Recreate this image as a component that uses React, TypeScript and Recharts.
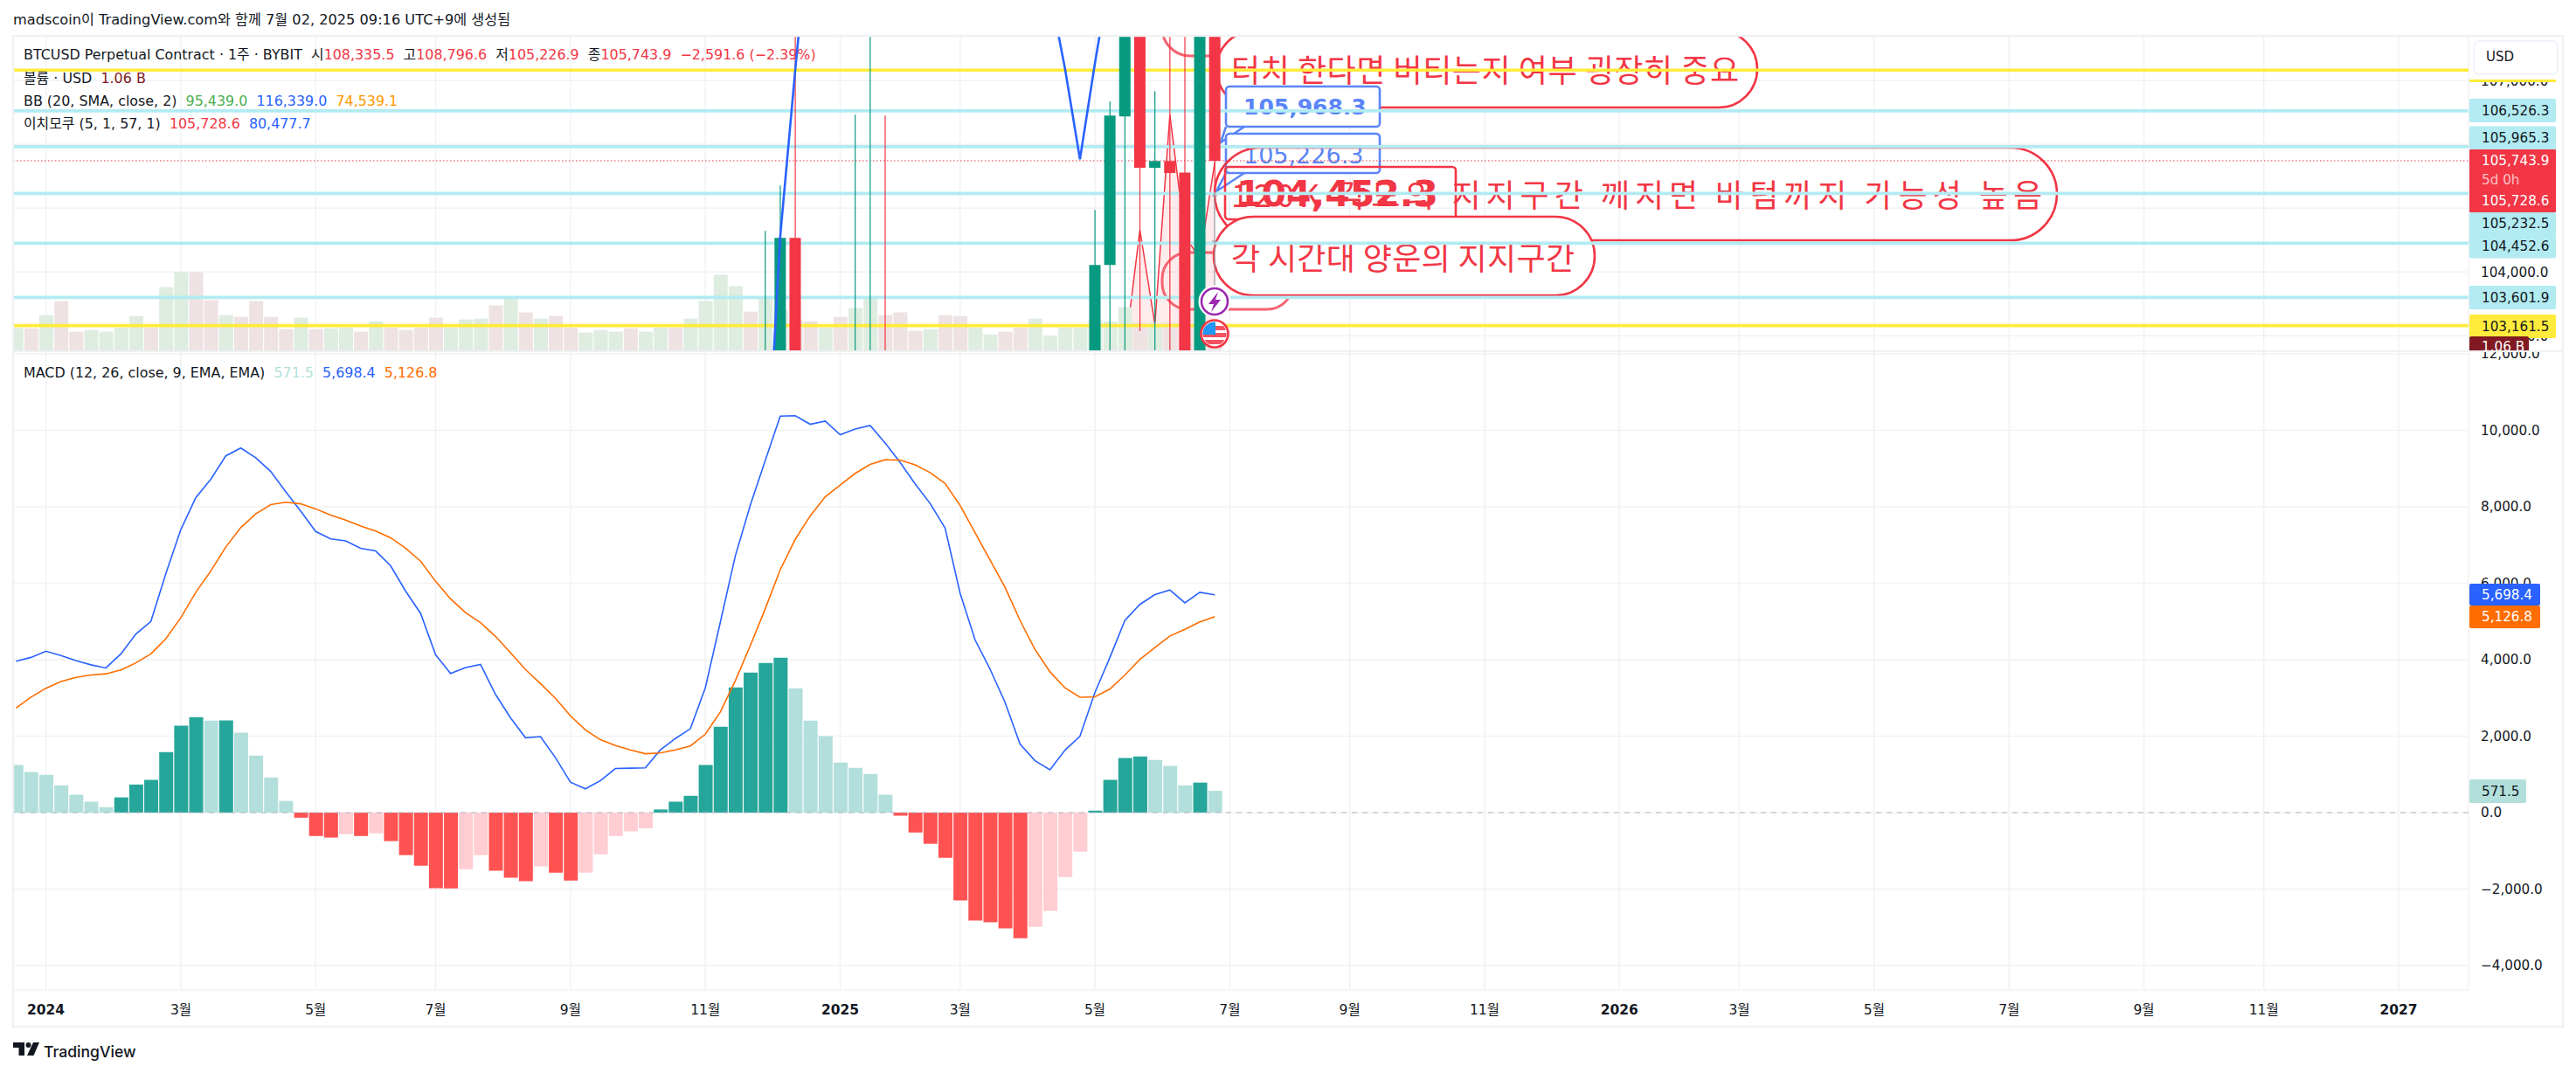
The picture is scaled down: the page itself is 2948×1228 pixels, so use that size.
import { Area, Bar, CartesianGrid, Cell, ComposedChart, Line, ReferenceLine, XAxis, YAxis } from 'recharts';

const W = 2948;
const H = 1228;
const FONT = '"DejaVu Sans", "Noto Sans CJK KR", sans-serif';
const KR = '"Noto Sans CJK KR", "Noto Sans", sans-serif';

const RED = '#F23645';
const GREEN = '#089981';
const BLUE = '#2962FF';
const GRID = '#F1F2F4';

// weekly bars, week 0 = first week of 2024
const volume = [
  4.03, 3.98, 6.25, 8.67, 3.38, 3.68, 3.38, 4.08, 6.1, 4.13, 11.09, 13.66, 13.66, 8.82, 6.25, 5.95, 8.67,
  5.95, 3.83, 5.8, 3.83, 3.98, 4.13, 3.38, 5.19, 4.13, 3.68, 4.13, 5.8, 4.13, 5.49, 5.64, 7.91, 9.12, 6.7,
  5.64, 6.1, 4.13, 3.23, 3.68, 3.38, 3.98, 3.38, 4.13, 4.13, 5.64, 8.67, 13.2, 11.24, 6.85, 9.12, 7.16,
  5.39, 5.19, 4.13, 5.95, 7.46, 9.12, 6.25, 6.7, 3.53, 3.83, 6.25, 6.1, 4.13, 2.92, 3.38, 4.13, 5.64, 2.62,
  4.13, 4.13, 5.39, 5.14, 7.61, 5.04, 4.89, 5.04, 3.88, 4.89, 1.06,
];
const volumeUp = [
  1, 0, 1, 0, 0, 1, 1, 1, 1, 0, 1, 1, 0, 0, 1, 0, 0, 0, 0, 1, 0, 1, 1, 0, 1, 0, 0, 0, 0, 1, 1, 1, 0, 1, 0, 1,
  0, 0, 1, 1, 1, 0, 1, 1, 0, 1, 1, 1, 1, 0, 1, 1, 0, 0, 1, 0, 1, 1, 0, 0, 0, 1, 0, 0, 1, 1, 0, 0, 1, 1, 1, 1,
  1, 1, 1, 0, 1, 0, 0, 1, 0,
];
const histogram = [
  1245, 1061, 989, 714, 469, 286, 143, 398, 734, 857, 1581, 2275, 2499, 2407, 2410, 2091, 1489, 918, 306,
  -133, -612, -653, -561, -612, -541, -745, -1112, -1387, -1979, -1985, -1479, -1112, -1520, -1703, -1795,
  -1408, -1571, -1775, -1571, -1091, -612, -490, -408, 82, 286, 439, 1245, 2244, 3274, 3662, 3917, 4049,
  3254, 2407, 1999, 1306, 1173, 1010, 469, -82, -520, -816, -1183, -2295, -2825, -2866, -3029, -3284, -2989,
  -2570, -1683, -1020, 51, 857, 1428, 1469, 1377, 1224, 714, 785, 571.5,
];
const macdLine = [
  3958, 4060, 4223, 4111, 3978, 3866, 3784, 4151, 4672, 4998, 6253, 7405, 8242, 8721, 9333, 9537, 9282, 8925,
  8395, 7885, 7354, 7160, 7109, 6916, 6844, 6457, 5794, 5212, 4131, 3641, 3794, 3876, 3091, 2479, 1958, 1989,
  1438, 796, 622, 836, 1153, 1163, 1173, 1642, 1938, 2193, 3264, 4978, 6712, 8038, 9211, 10373, 10384, 10159,
  10241, 9884, 10037, 10129, 9670, 9160, 8599, 8089, 7446, 5743, 4519, 3754, 2887, 1795, 1357, 1122, 1632,
  1999, 3142, 4060, 5029, 5447, 5702, 5824, 5488, 5763, 5698.4,
];
const signalLine = [
  2734, 3019, 3254, 3427, 3539, 3601, 3631, 3733, 3917, 4151, 4549, 5100, 5763, 6324, 6946, 7456, 7813, 8058,
  8119, 8078, 7946, 7783, 7650, 7497, 7364, 7191, 6916, 6579, 6049, 5590, 5233, 4967, 4610, 4182, 3743, 3376,
  2989, 2530, 2162, 1907, 1754, 1642, 1540, 1561, 1642, 1744, 2050, 2632, 3448, 4366, 5335, 6355, 7150, 7762,
  8262, 8568, 8874, 9109, 9231, 9221, 9098, 8894, 8609, 8038, 7324, 6610, 5896, 5029, 4264, 3682, 3264, 3019,
  3029, 3233, 3601, 4009, 4315, 4621, 4794, 4988, 5126.8,
];

// only these candles reach into the zoomed price pane
const candleWeeks = [48, 49, 50, 54, 55, 56, 70, 71, 72, 73, 74, 75, 76, 77, 78];
const candleOpen = [96500, 101000, 104534, 94500, 101000, 102000, 96000, 104110, 106438, 110000, 105634, 105740, 105560, 99000, 108335.5];
const candleClose = [101000, 104534, 95500, 101000, 102000, 100000, 104110, 106452, 110000, 105634, 105740, 105552, 99000, 108335, 105743.9];
const candleHigh = [104644, 105356, 108300, 106466, 109500, 106452, 104973, 106671, 112000, 111500, 106836, 108500, 108500, 110000, 108796.6];
const candleLow = [95000, 100000, 92000, 89000, 100000, 97000, 93000, 102000, 102000, 103073, 102000, 102000, 98000, 98000, 105226.9];

const bandWeeks = [47, 48, 49, 50, 51, 66, 67, 68, 69, 70, 71, 72];
const bandValues = [97000, 100288, 104562, 107164, 109630, 110000, 108400, 107192, 105767, 107274, 108670, 110000];
const cloudWeeks = [72, 73, 74, 75, 76, 77, 78];
const cloudValues = [102753, 104662, 103178, 106466, 104575, 104205, 105728.6];

const aquaLevels = [106526.3, 105965.3, 105232.5, 104452.6, 103601.9];
const yellowLevels = [107165, 103161.5];
const lastPrice = 105743.9;

const priceTicks = [103000, 104000, 105000, 106000, 107000];
const macdTicks = [-4000, -2000, 0, 2000, 4000, 6000, 8000, 10000, 12000];
const timeTicks = [0, 9, 18, 26, 35, 44, 53, 61, 70, 79, 87, 96, 105, 113, 122, 131, 140, 148, 157];
const timeLabels = ['2024', '3월', '5월', '7월', '9월', '11월', '2025', '3월', '5월', '7월', '9월', '11월', '2026', '3월', '5월', '7월', '9월', '11월', '2027'];

const rows = volume.map((v, i) => {
  const week = i - 2;
  const c = candleWeeks.indexOf(week);
  const b = bandWeeks.indexOf(week);
  const k = cloudWeeks.indexOf(week);
  return {
    week,
    volume: v,
    hist: histogram[i],
    macd: macdLine[i],
    signal: signalLine[i],
    band: b >= 0 ? bandValues[b] : null,
    cloud: k >= 0 ? cloudValues[k] : null,
    body: c >= 0 ? [Math.min(candleOpen[c], candleClose[c]), Math.max(candleOpen[c], candleClose[c])] : null,
    wick: c >= 0 ? [candleLow[c], candleHigh[c]] : null,
    up: c >= 0 ? candleClose[c] >= candleOpen[c] : false,
  };
});

const weekAxis = { type: 'number' as const, dataKey: 'week', domain: [-2.192, 161.66], allowDataOverflow: true, ticks: timeTicks, interval: 0 as const };
const priceDomain = [102758, 107702.7];
const fmt = (v: number) => v.toLocaleString('en-US', { minimumFractionDigits: 1, maximumFractionDigits: 1 }).replace('-', '−');
const layer = { position: 'absolute', left: 0, top: 0 } as const;
const topMargin = { top: 41, right: 123, bottom: 826, left: 15 };

function histColor(i: number) {
  const v = histogram[i];
  const rising = i > 0 && v > histogram[i - 1];
  if (v >= 0) return rising ? '#26A69A' : '#B2DFDB';
  return rising ? '#FFCDD2' : '#FF5252';
}

function TimeTick({ x, payload }: any) {
  const label = timeLabels[timeTicks.indexOf(payload.value)];
  const isYear = label.length === 4;
  return (
    <text x={x} y={1161} textAnchor="middle" fontFamily={FONT} fontSize={15.5} fontWeight={isYear ? 700 : 400} fill="#131722">
      {label}
    </text>
  );
}

function Tag({ y, h = 27, w = 99, bg, color = '#131722', text }: any) {
  return (
    <g>
      <rect x={2826} y={y - h / 2} width={w} height={h} rx={2} fill={bg} />
      {text && (
        <text x={2840} y={y} dominantBaseline="central" fontFamily={FONT} fontSize={15.2} fill={color}>
          {text}
        </text>
      )}
    </g>
  );
}

function Legend({ y, x = 27, size = 15.9, children }: any) {
  return (
    <div style={{ position: 'absolute', left: x, top: y - 11, lineHeight: '22px', fontFamily: FONT, fontSize: size, color: '#131722', whiteSpace: 'pre' }}>
      {children}
    </div>
  );
}

const Red = ({ children }: any) => <span style={{ color: RED }}>{children}</span>;

function Drawings() {
  const pill = { fill: '#fff', stroke: RED, strokeWidth: 2.6 };
  const note = { fontFamily: KR, fontSize: 36, fill: RED, dominantBaseline: 'central' as const, lengthAdjust: 'spacing' as const };
  const callout = { fontFamily: FONT, fontSize: 25, fontWeight: 700, fill: '#5A85F7', dominantBaseline: 'central' as const };
  return (
    <svg width={W} height={H} style={layer}>
      <defs>
        <clipPath id="pane">
          <rect x={15} y={41} width={2810} height={361} />
        </clipPath>
      </defs>
      <g clipPath="url(#pane)">
        <rect x={1330} y={-20} width={150} height={84} rx={32} fill="none" stroke="#F5636F" strokeWidth={3} />
        <rect x={1330} y={289} width={150} height={65} rx={30} fill="none" stroke="#F5636F" strokeWidth={3} />
        <rect x={1392} y={35} width={619} height={88} rx={44} {...pill} />
        <text x={1409} y={78} textLength={581} {...note}>터치 한다면 버티는지 여부 굉장히 중요</text>
        <path d="M1403 145 L1397 163 L1424 145 M1403 198 L1392 219 L1424 198" fill="none" stroke="#5A85F7" strokeWidth={2.6} />
        <rect x={1403} y={99} width={176} height={46} rx={4} fill="#fff" stroke="#5A85F7" strokeWidth={2.6} />
        <text x={1423} y={122} {...callout}>105,968.3</text>
        <rect x={1403} y={153} width={176} height={45} rx={4} fill="#fff" stroke="#5A85F7" strokeWidth={2.6} />
        <text x={1423} y={177} {...callout} fontWeight={400} fontSize={27}>105,226.3</text>
        <rect x={1390} y={169} width={964} height={106} rx={53} fill="none" stroke={RED} strokeWidth={2.6} />
        <text x={1409} y={221} textLength={928} {...note}>120K 각도의 지지구간 깨지면 바텀까지 가능성 높음</text>
        <rect x={1402} y={191} width={264} height={60} rx={4} fill="none" stroke={RED} strokeWidth={2.6} />
        <text x={1415} y={222} fontFamily={FONT} fontWeight={700} fontSize={41} fill={RED} dominantBaseline="central">104,452.3</text>
        <rect x={1389} y={248} width={436} height={90} rx={45} {...pill} />
        <text x={1409} y={293} textLength={393} {...note}>각 시간대 양운의 지지구간</text>
      </g>
    </svg>
  );
}

function Overlay() {
  return (
    <svg width={W} height={H} style={layer}>
      {/* price tags */}
      <Tag y={126.5} bg="#B2EBF2" text="106,526.3" />
      <Tag y={158} bg="#B2EBF2" text="105,965.3" />
      <Tag y={256} bg="#B2EBF2" text="105,232.5" />
      <Tag y={282} bg="#B2EBF2" text="104,452.6" />
      <rect x={2826} y={171} width={99} height={72} rx={1} fill={RED} />
      <text x={2840} y={184} dominantBaseline="central" fontFamily={FONT} fontSize={15.2} fill="#fff">105,743.9</text>
      <text x={2840} y={206} dominantBaseline="central" fontFamily={FONT} fontSize={15.2} fill="#fff" fillOpacity={0.7}>5d 0h</text>
      <text x={2840} y={230} dominantBaseline="central" fontFamily={FONT} fontSize={15.2} fill="#fff">105,728.6</text>
      <Tag y={340.5} bg="#B2EBF2" text="103,601.9" />
      <rect x={2826} y={91} width={99} height={3} fill="#FFEB3B" />
      <rect x={2826} y={47} width={104} height={44} fill="#fff" />
      <rect x={2831} y={47} width={96} height={38} rx={6} fill="#fff" stroke="#F0F3FA" strokeWidth={2} />
      <text x={2845} y={65} dominantBaseline="central" fontFamily={FONT} fontSize={15} fill="#131722">USD</text>
      <Tag y={373.5} bg="#FFEB3B" text="103,161.5" />
      <clipPath id="volTag">
        <rect x={2826} y={385} width={68} height={17} />
      </clipPath>
      <g clipPath="url(#volTag)">
        <rect x={2826} y={385} width={68} height={20} rx={2} fill="#801922" />
        <text x={2840} y={397} dominantBaseline="central" fontFamily={FONT} fontSize={15.2} fill="#fff">1.06 B</text>
      </g>
      <Tag y={680.5} h={25} w={81} bg={BLUE} color="#fff" text="5,698.4" />
      <Tag y={706} h={26} w={81} bg="#FF6D00" color="#fff" text="5,126.8" />
      <Tag y={905.5} w={65} bg="#B2DFDB" text="571.5" />

      {/* event markers */}
      <path d="M1390 221 V345 M1387 224 H1393 M1387 276 H1393" stroke="#9598A1" strokeWidth={1.2} />
      <circle cx={1390} cy={345} r={15.5} fill="#fff" stroke="#fff" strokeWidth={6} />
      <circle cx={1390} cy={345} r={15} fill="#fff" stroke="#9C27B0" strokeWidth={2.6} />
      <path d="M1394 334 L1383 348 L1389 348 L1386 357 L1397 343 L1391 343 Z" fill="#9C27B0" />
      <clipPath id="flag">
        <circle cx={1390} cy={382} r={13.5} />
      </clipPath>
      <circle cx={1390} cy={382} r={15.5} fill="#fff" stroke={RED} strokeWidth={2.6} />
      <g clipPath="url(#flag)">
        <rect x={1376} y={373} width={28} height={5} fill="#F4525F" />
        <rect x={1376} y={381} width={28} height={5} fill="#F4525F" />
        <rect x={1376} y={389} width={28} height={5} fill="#F4525F" />
        <rect x={1376} y={368} width={15} height={15} fill="#2196F3" />
      </g>

      {/* frame */}
      <rect x={15} y={41} width={2918} height={1134} fill="none" stroke="#F0F1F3" strokeWidth={2.4} />
      <line x1={15} x2={2933} y1={402} y2={402} stroke="#F0F1F3" strokeWidth={2} />

      {/* logo */}
      <path d="M15 1193 H28 V1208 H21.5 V1199 H15 Z M38 1193 H45 L38.5 1208 H31 Z" fill="#131722" />
      <circle cx={32.5} cy={1196} r={3} fill="#131722" />
      <text x={50} y={1203} dominantBaseline="central" fontFamily="Inter, sans-serif" fontWeight={500} fontSize={17.6} fill="#131722">TradingView</text>
    </svg>
  );
}

export default function App() {
  return (
    <div style={{ position: 'absolute', left: 0, top: 0, width: W, height: H, overflow: 'hidden', background: '#fff' }}>
      {/* MACD pane */}
      <div style={layer}>
        <ComposedChart width={W} height={H} data={rows} margin={{ top: 402, right: 15, bottom: 53, left: 15 }}>
          <CartesianGrid stroke={GRID} strokeWidth={1.5} />
          <XAxis {...weekAxis} height={42} tickLine={false} axisLine={false} tick={<TimeTick />} />
          <YAxis
            orientation="right"
            width={108}
            domain={[-4640, 12069]}
            allowDataOverflow
            ticks={macdTicks}
            interval={0}
            tickSize={0}
            tickMargin={14}
            tickLine={false}
            axisLine={false}
            tickFormatter={fmt}
            tick={{ fontFamily: FONT, fontSize: 15.2, fill: '#131722' }}
          />
          <Bar dataKey="hist" barSize={16} isAnimationActive={false}>
            {rows.map((r, i) => (
              <Cell key={r.week} fill={histColor(i)} />
            ))}
          </Bar>
          <ReferenceLine y={0} stroke="#B2B5BE" strokeDasharray="6 6" />
          <Line dataKey="macd" stroke={BLUE} strokeWidth={1.6} dot={false} isAnimationActive={false} />
          <Line dataKey="signal" stroke="#FF6D00" strokeWidth={1.6} dot={false} isAnimationActive={false} />
        </ComposedChart>
      </div>

      <div style={{ ...layer, width: W, height: 402, background: '#fff' }} />

      {/* price pane: grid, volume and cloud */}
      <div style={layer}>
        <ComposedChart width={W} height={H} data={rows} margin={{ top: 41, right: 15, bottom: 826, left: 15 }}>
          <CartesianGrid stroke={GRID} strokeWidth={1.5} />
          <XAxis {...weekAxis} hide />
          <YAxis
            orientation="right"
            width={108}
            domain={priceDomain}
            allowDataOverflow
            ticks={priceTicks}
            interval={0}
            tickSize={0}
            tickMargin={14}
            tickLine={false}
            axisLine={false}
            tickFormatter={fmt}
            tick={{ fontFamily: FONT, fontSize: 15.2, fill: '#131722' }}
          />
          <YAxis yAxisId="vol" hide domain={[0, 54.5]} />
          <Bar yAxisId="vol" dataKey="volume" barSize={16} isAnimationActive={false}>
            {rows.map((r, i) => (
              <Cell key={r.week} fill={volumeUp[i] ? '#DEEDE0' : '#EEE2E3'} />
            ))}
          </Bar>
          <Area dataKey="cloud" baseValue={priceDomain[0]} stroke={RED} strokeWidth={1.5} fill={RED} fillOpacity={0.1} dot={false} isAnimationActive={false} />
        </ComposedChart>
      </div>

      <Drawings />

      <Legend y={23} x={15} size={16.2}>madscoin이 TradingView.com와 함께 7월 02, 2025 09:16 UTC+9에 생성됨</Legend>
      <Legend y={63}>
        BTCUSD Perpetual Contract · 1주 · BYBIT  시<Red>108,335.5</Red>  고<Red>108,796.6</Red>  저<Red>105,226.9</Red>  종<Red>105,743.9</Red>  <Red>−2,591.6 (−2.39%)</Red>
      </Legend>
      <Legend y={90}>
        볼륨 · USD  <span style={{ color: '#801922' }}>1.06 B</span>
      </Legend>
      <Legend y={116}>
        BB (20, SMA, close, 2)  <span style={{ color: '#4CAF50' }}>95,439.0</span>  <span style={{ color: BLUE }}>116,339.0</span>  <span style={{ color: '#FF9800' }}>74,539.1</span>
      </Legend>
      <Legend y={142}>
        이치모쿠 (5, 1, 57, 1)  <Red>105,728.6</Red>  <span style={{ color: BLUE }}>80,477.7</span>
      </Legend>
      <Legend y={427}>
        MACD (12, 26, close, 9, EMA, EMA)  <span style={{ color: '#B2DFDB' }}>571.5</span>  <span style={{ color: BLUE }}>5,698.4</span>  <span style={{ color: '#FF6D00' }}>5,126.8</span>
      </Legend>

      {/* horizontal levels sit above the drawings, under the candles */}
      <div style={layer}>
        <ComposedChart width={W} height={H} data={rows} margin={topMargin}>
          <XAxis {...weekAxis} hide />
          <YAxis hide domain={priceDomain} allowDataOverflow />
          {aquaLevels.map((v) => (
            <ReferenceLine key={v} y={v} stroke="#B2EBF2" strokeWidth={3.7} />
          ))}
          {yellowLevels.map((v) => (
            <ReferenceLine key={v} y={v} stroke="#FFEB3B" strokeWidth={3.7} />
          ))}
          <ReferenceLine y={lastPrice} stroke={RED} strokeDasharray="1.5 2.5" strokeWidth={1.2} />
        </ComposedChart>
      </div>

      {/* candles */}
      <div style={layer}>
        <ComposedChart width={W} height={H} data={rows} margin={topMargin}>
          <XAxis {...weekAxis} hide />
          <XAxis {...weekAxis} xAxisId="wick" hide />
          <XAxis {...weekAxis} xAxisId="body" hide />
          <YAxis hide domain={priceDomain} allowDataOverflow />
          <Line dataKey="band" stroke={BLUE} strokeWidth={2.6} dot={false} connectNulls={false} isAnimationActive={false} />
          <Bar xAxisId="wick" dataKey="wick" barSize={1.2} isAnimationActive={false}>
            {rows.map((r) => (
              <Cell key={r.week} fill={r.up ? GREEN : RED} />
            ))}
          </Bar>
          <Bar xAxisId="body" dataKey="body" barSize={13} isAnimationActive={false}>
            {rows.map((r) => (
              <Cell key={r.week} fill={r.up ? GREEN : RED} />
            ))}
          </Bar>
        </ComposedChart>
      </div>

      <Overlay />
    </div>
  );
}
